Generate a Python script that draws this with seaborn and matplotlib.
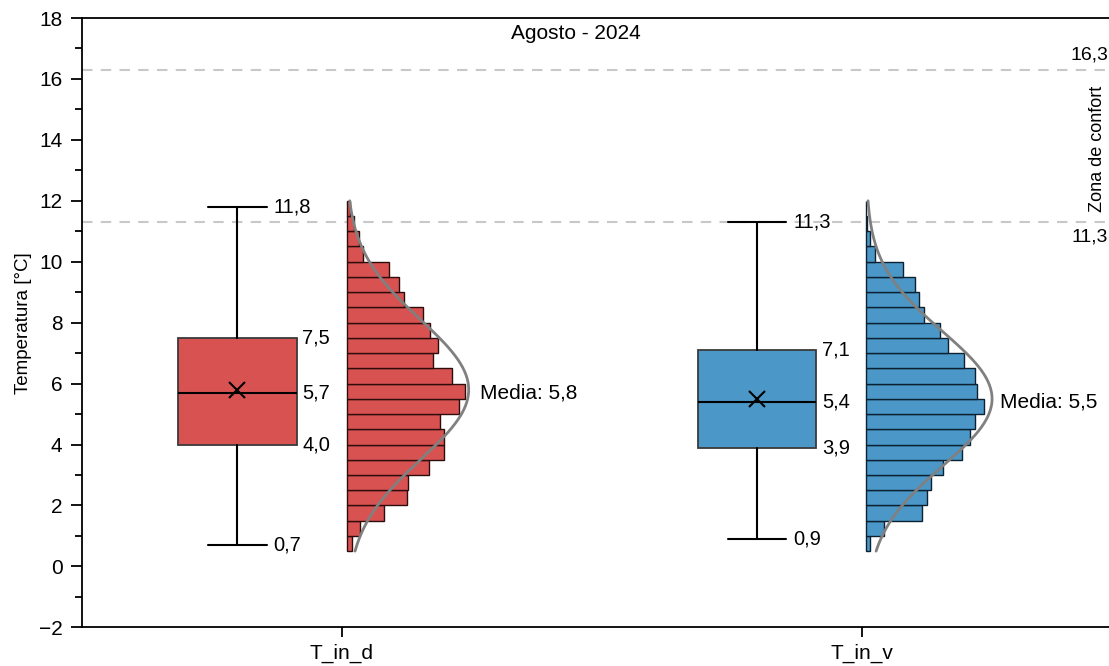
import numpy as np
import matplotlib
matplotlib.use("Agg")
import matplotlib.pyplot as plt
import seaborn as sns

# ---- data -------------------------------------------------------------
categories = ["T_in_d", "T_in_v"]
whisker_low = [0.7, 0.9]
q1 = [4.0, 3.9]
median = [5.7, 5.4]
q3 = [7.5, 7.1]
whisker_high = [11.8, 11.3]
means = [5.8, 5.5]

# hourly temperature histogram, 0.5 °C bins from 0.5 to 12.0 (bottom to top)
bin_edges = [0.5, 1.0, 1.5, 2.0, 2.5, 3.0, 3.5, 4.0, 4.5, 5.0, 5.5, 6.0,
             6.5, 7.0, 7.5, 8.0, 8.5, 9.0, 9.5, 10.0, 10.5, 11.0, 11.5, 12.0]
counts_d = [5, 13, 37, 60, 61, 82, 97, 97, 93, 112, 118, 105,
            86, 91, 83, 76, 57, 52, 42, 16, 12, 7, 3]
counts_v = [4, 18, 56, 61, 65, 77, 96, 104, 109, 118, 111, 109,
            98, 82, 74, 58, 53, 49, 37, 9, 4, 1, 0]

comfort_low = 11.3
comfort_high = 16.3
title = "Agosto - 2024"

colors = ["#D95252", "#4A97C8"]
edge_colors = ["#2E0C0C", "#0C2232"]


def fmt(v):
    return f"{v:.1f}".replace(".", ",")


# ---- style --------------------------------------------------------------
sns.set_theme(style="ticks")
plt.rcParams["font.family"] = ["Liberation Sans", "DejaVu Sans"]
plt.rcParams["axes.unicode_minus"] = True
for key in ("text.color", "axes.labelcolor", "xtick.color", "ytick.color",
            "xtick.labelcolor", "ytick.labelcolor", "axes.edgecolor"):
    plt.rcParams[key] = "black"

fig = plt.figure(figsize=(11.09, 6.66), dpi=100)
ax = fig.add_axes([82 / 1109, 1 - 627.3 / 666, (1121.6 - 82) / 1109, (627.3 - 18) / 666])

positions = np.arange(1, len(categories) + 1)
box_shift = -0.201
box_width = 0.228
cap_width = 0.112
hist_shift = 0.009
count_scale = 1 / 520.0
label_size = 14.5

# ---- comfort zone ---------------------------------------------------------
for lvl in (comfort_low, comfort_high):
    ax.axhline(lvl, color="#C8C8C8", lw=1.5, ls=(0, (5, 4)), zorder=1)
ax.text(2.474, comfort_high + 0.2, fmt(comfort_high), ha="right", va="bottom", fontsize=14)
ax.text(2.474, comfort_low - 0.2, fmt(comfort_low), ha="right", va="top", fontsize=14)
ax.text(2.453, (comfort_low + comfort_high) / 2 - 0.1, "Zona de confort", rotation=90,
        ha="center", va="center", fontsize=13)

# ---- box plots ----------------------------------------------------------------
stats = []
for i, cat in enumerate(categories):
    stats.append(dict(label=cat, whislo=whisker_low[i], q1=q1[i], med=median[i],
                      q3=q3[i], whishi=whisker_high[i], mean=means[i], fliers=[]))
bp = ax.bxp(stats, positions=positions + box_shift, widths=box_width,
            capwidths=cap_width, patch_artist=True, showmeans=True,
            showfliers=False, manage_ticks=False,
            boxprops=dict(edgecolor="#3A3A3A", linewidth=1.3),
            medianprops=dict(color="black", linewidth=1.5),
            whiskerprops=dict(color="black", linewidth=1.5),
            capprops=dict(color="black", linewidth=1.5),
            meanprops=dict(marker="x", markeredgecolor="black", markersize=11,
                           markeredgewidth=1.5))
for patch, c in zip(bp["boxes"], colors):
    patch.set_facecolor(c)

for i, p in enumerate(positions + box_shift):
    for v in (whisker_low[i], whisker_high[i]):
        ax.text(p + cap_width / 2 + 0.013, v, fmt(v), ha="left", va="center",
                fontsize=label_size)
    for v in (q1[i], median[i], q3[i]):
        ax.text(p + box_width / 2 + 0.011, v, fmt(v), ha="left", va="center",
                fontsize=label_size)

# ---- histograms with normal fit ---------------------------------------------
edges = np.array(bin_edges)
mids = (edges[:-1] + edges[1:]) / 2
bw = edges[1] - edges[0]
yy = np.linspace(edges[0], edges[-1], 300)
for i, counts in enumerate([counts_d, counts_v]):
    base = positions[i] + hist_shift
    c = np.array(counts, dtype=float)
    ax.barh(mids, c * count_scale, height=bw, left=base, color=colors[i],
            edgecolor=edge_colors[i], linewidth=1.0, zorder=2)
    n = c.sum()
    sd = np.sqrt((c * (mids - means[i]) ** 2).sum() / n)
    pdf = np.exp(-0.5 * ((yy - means[i]) / sd) ** 2) / (sd * np.sqrt(2 * np.pi))
    sns.lineplot(x=base + n * bw * pdf * count_scale, y=yy, orient="y", sort=False,
                 estimator=None, color="#808080", lw=2, ax=ax, zorder=3)
    ax.text(base + 0.257, means[i] - 0.12, "Media: " + fmt(means[i]), ha="left",
            va="center", fontsize=15)

# ---- axes -------------------------------------------------------------------
ax.set_xlim(0.5, 2.5)
ax.set_ylim(-2, 18)
ax.set_xticks(positions)
ax.set_xticklabels(categories)
ax.set_yticks(np.arange(-2, 19, 2))
ax.set_yticks(np.arange(-1, 18, 2), minor=True)
ax.tick_params(axis="y", which="major", length=8, width=1.3, labelsize=15, pad=6)
ax.tick_params(axis="y", which="minor", length=5, width=1.3)
ax.tick_params(axis="x", length=7, width=1.3, labelsize=15, pad=5)
ax.set_ylabel("Temperatura [°C]", fontsize=13.5)
ax.yaxis.set_label_coords(-0.048, 0.5)
ax.set_xlabel("")
for s in ("left", "bottom", "top"):
    ax.spines[s].set_linewidth(1.3)
    ax.spines[s].set_color("black")
    ax.spines[s].set_visible(True)
ax.spines["right"].set_visible(False)
ax.text(1.45, 17.5, title, ha="center", va="center", fontsize=15)

fig.savefig("out.png", dpi=100)
